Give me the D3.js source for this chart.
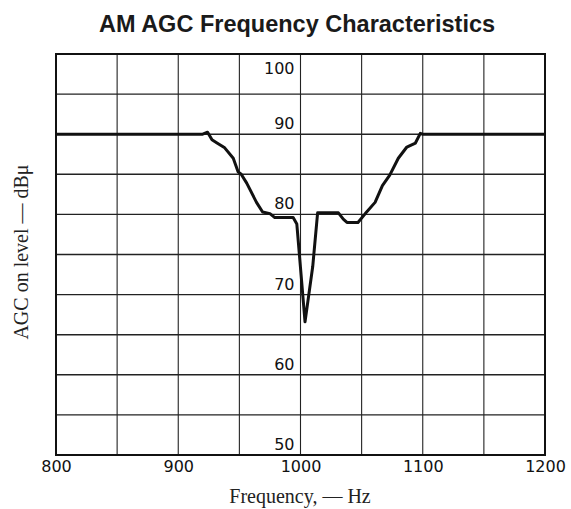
<!DOCTYPE html>
<html><head><meta charset="utf-8">
<script src="https://cdn.jsdelivr.net/npm/d3@7"></script>
<style>body{margin:0;background:#fff}</style>
</head><body>
<svg id="c" width="571" height="509"></svg>
<script>
const title = "AM AGC Frequency Characteristics";
const xLabel = "Frequency, — Hz";
const yLabel = "AGC on level — dBμ";
const xTicks = [800, 900, 1000, 1100, 1200];
const yTicks = [50, 60, 70, 80, 90, 100];
const xGrid = [850, 900, 950, 1000, 1050, 1100, 1150];
const yGrid = [55, 60, 65, 70, 75, 80, 85, 90, 95];
const freq = [800, 920, 924, 927.6, 931.7, 938, 945, 949, 951.5, 956, 964, 969, 975, 979, 994, 997, 1003.7, 1010, 1014, 1031, 1035, 1038, 1047, 1053, 1061, 1067, 1073, 1080, 1087, 1094, 1098, 1100, 1200];
const level = [90, 90, 90.25, 89.3, 88.9, 88.3, 87, 85.3, 85, 83.9, 81.5, 80.3, 80.1, 79.6, 79.6, 78.8, 66.6, 73.5, 80.2, 80.2, 79.4, 79, 79, 80.1, 81.5, 83.6, 84.9, 87, 88.4, 88.9, 90.1, 90, 90];

const svg = d3.select("#c");
const L = 56, R = 545, T = 54, B = 455;
const x = d3.scaleLinear().domain([800, 1200]).range([L, R]);
const y = d3.scaleLinear().domain([50, 100]).range([B, T]);

svg.append("text").attr("x", 297).attr("y", 32).attr("text-anchor", "middle")
  .attr("font-family", "Liberation Sans, Arial, sans-serif").attr("font-weight", "bold")
  .attr("font-size", 23.5).attr("fill", "#1a1a1a").text(title);

const g = svg.append("g");
g.selectAll("line.vg").data(xGrid).join("line").attr("class", "vg")
  .attr("x1", d => x(d)).attr("x2", d => x(d)).attr("y1", T).attr("y2", B)
  .attr("stroke", "#222").attr("stroke-width", 1.1);
g.selectAll("line.hg").data(yGrid).join("line").attr("class", "hg")
  .attr("x1", L).attr("x2", R).attr("y1", d => y(d)).attr("y2", d => y(d))
  .attr("stroke", "#222").attr("stroke-width", 1.4);
g.append("rect").attr("x", L).attr("y", T).attr("width", R - L).attr("height", B - T)
  .attr("fill", "none").attr("stroke", "#111").attr("stroke-width", 2);

const xAxis = d3.axisBottom(x).tickValues(xTicks).tickSize(0).tickPadding(6).tickFormat(d3.format("d"));
const xa = svg.append("g").attr("transform", `translate(0,${B})`).call(xAxis);
xa.select(".domain").remove();
xa.selectAll("text").attr("font-family", "DejaVu Sans, sans-serif").attr("font-size", 16).attr("fill", "#111");

svg.selectAll("text.yl").data(yTicks).join("text").attr("class", "yl")
  .attr("x", x(1000) - 6)
  .attr("y", d => d === 100 ? y(d) + 20 : y(d) - 5)
  .attr("text-anchor", "end")
  .attr("font-family", "DejaVu Sans, sans-serif").attr("font-size", 16).attr("fill", "#111")
  .text(d => d);

const pts = freq.map((f, i) => [f, level[i]]);
svg.append("path").datum(pts)
  .attr("d", d3.line().x(d => x(d[0])).y(d => y(d[1])).curve(d3.curveLinear))
  .attr("fill", "none").attr("stroke", "#111").attr("stroke-width", 3).attr("stroke-linejoin", "round");

svg.append("text").attr("x", 300).attr("y", 503).attr("text-anchor", "middle")
  .attr("font-family", "Liberation Serif, Times New Roman, serif").attr("font-size", 20).attr("fill", "#222").text(xLabel);
svg.append("text").attr("transform", "translate(28,252) rotate(-90)").attr("text-anchor", "middle")
  .attr("font-family", "Liberation Serif, Times New Roman, serif").attr("font-size", 20).attr("fill", "#222").text(yLabel);
</script>
</body></html>
